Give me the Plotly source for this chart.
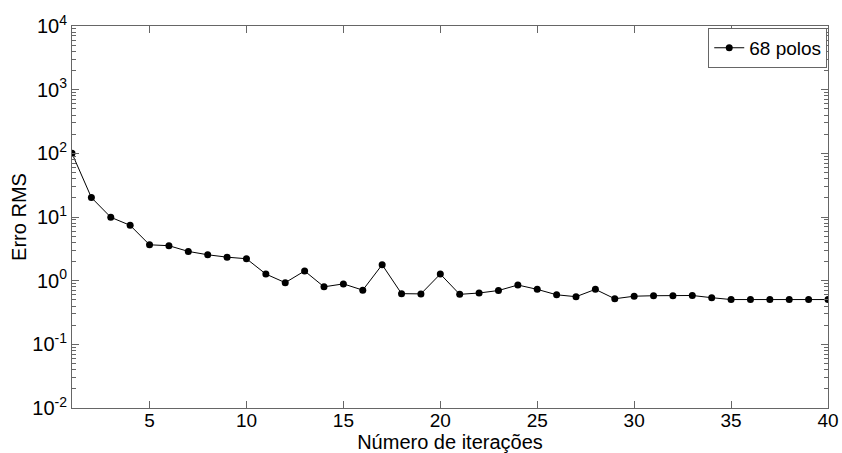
import plotly.graph_objects as go

iteracoes = list(range(1, 41))
erro_rms = [100, 20.2, 9.9, 7.4, 3.66, 3.54, 2.88, 2.55, 2.34, 2.21,
            1.27, 0.93, 1.42, 0.80, 0.89, 0.71, 1.78, 0.625, 0.62, 1.27,
            0.61, 0.64, 0.70, 0.855, 0.73, 0.60, 0.56, 0.73, 0.52, 0.57,
            0.58, 0.58, 0.585, 0.54, 0.505, 0.505, 0.505, 0.505, 0.505, 0.505]
serie_nome = "68 polos"
y_tickvals = [1e-2, 1e-1, 1e0, 1e1, 1e2, 1e3, 1e4]
y_ticktext = ["10<sup>-2</sup>", "10<sup>-1</sup>", "10<sup>0</sup>", "10<sup>1</sup>",
              "10<sup>2</sup>", "10<sup>3</sup>", "10<sup>4</sup>"]
x_tickvals = [5, 10, 15, 20, 25, 30, 35, 40]

font = "Liberation Sans, Arial, sans-serif"
axcol = "#666666"

fig = go.Figure()
fig.add_trace(go.Scatter(
    x=iteracoes, y=erro_rms, mode="lines+markers", name=serie_nome,
    line=dict(color="black", width=1),
    marker=dict(color="black", size=7),
))

fig.update_layout(
    width=842, height=453,
    margin=dict(l=72, r=14, t=26, b=45),
    paper_bgcolor="white", plot_bgcolor="white",
    font=dict(family=font, size=20, color="black"),
    showlegend=True,
    legend=dict(x=0.999, y=0.995, xanchor="right", yanchor="top",
                bgcolor="white", bordercolor=axcol, borderwidth=1,
                font=dict(size=19), itemwidth=30,
                tracegroupgap=0),
    xaxis=dict(range=[1, 40], tickvals=x_tickvals, ticks="inside", ticklen=7,
               tickcolor=axcol, showline=True, linecolor=axcol, linewidth=1,
               mirror="allticks", showgrid=False, zeroline=False,
               tickfont=dict(size=19), automargin=False, ticklabelstandoff=-5,
               title=dict(text="Número de iterações", standoff=0,
                          font=dict(size=20))),
    yaxis=dict(type="log", range=[-2, 4], tickvals=y_tickvals, ticktext=y_ticktext,
               ticks="inside", ticklen=7, tickcolor=axcol, showline=True,
               linecolor=axcol, linewidth=1, mirror="allticks", showgrid=False,
               zeroline=False, tickfont=dict(size=20), automargin=False,
               minor=dict(ticks="inside", ticklen=4, tickcolor=axcol, dtick="D1",
                          showgrid=False),
               title=dict(text="Erro RMS", standoff=0, font=dict(size=20))),
)

fig.write_html("out.html")
